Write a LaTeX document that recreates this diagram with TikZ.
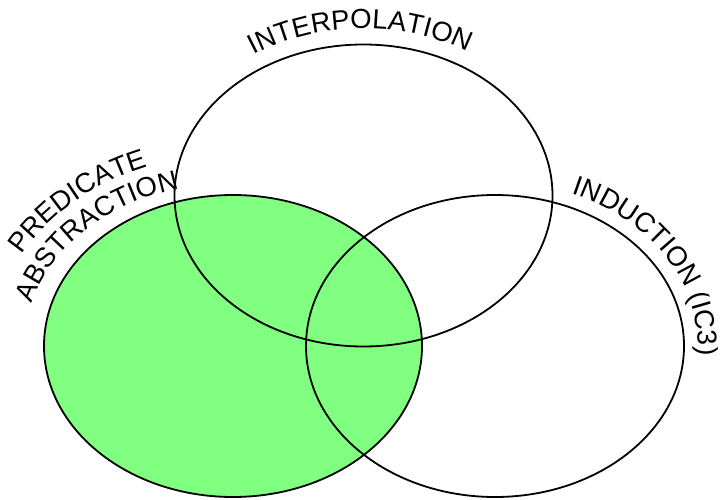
\documentclass[tikz,border=0pt]{standalone}
\usepackage{fontspec}
\setmainfont{Liberation Sans}
\usetikzlibrary{decorations.text}
\definecolor{venngreen}{RGB}{128,255,128}
\newcommand\lblfont{\fontsize{27.5}{27.5}\selectfont}
\begin{document}
\begin{tikzpicture}[x=1pt,y=1pt,
  venn/.style={line width=1.8pt},
  curvedlabel/.style={decorate, decoration={text along path, text align=center, text={#1}}}]
\useasboundingbox (0,0) rectangle (722,499);
\coordinate (cleft) at (233,153);
\coordinate (ctop) at (363.5,303.5);
\coordinate (cright) at (495,153);
% filled set
\fill[venngreen] (cleft) ellipse [x radius=189pt, y radius=151pt];
% outlines
\draw[venn] (cleft) ellipse [x radius=189pt, y radius=151pt];
\draw[venn] (ctop) ellipse [x radius=189pt, y radius=151pt];
\draw[venn] (cright) ellipse [x radius=189pt, y radius=151pt];
% labels
\path[curvedlabel={|\lblfont|INTERPOLATION}] (ctop) ++(141:203pt and 167pt)
  arc[start angle=141, end angle=41, x radius=203pt, y radius=167pt];
\path[curvedlabel={|\lblfont|INDUCTION (IC3)}] (cright) ++(81:203pt and 165pt)
  arc[start angle=81, end angle=-19, x radius=203pt, y radius=165pt];
\path[curvedlabel={|\lblfont|ABSTRACTION}] (cleft) ++(176:209pt and 163pt)
  arc[start angle=176, end angle=96, x radius=209pt, y radius=163pt];
\path[curvedlabel={|\lblfont|PREDICATE}] (cleft) ++(173:240pt and 192pt)
  arc[start angle=173, end angle=93, x radius=240pt, y radius=192pt];
\end{tikzpicture}
\end{document}
